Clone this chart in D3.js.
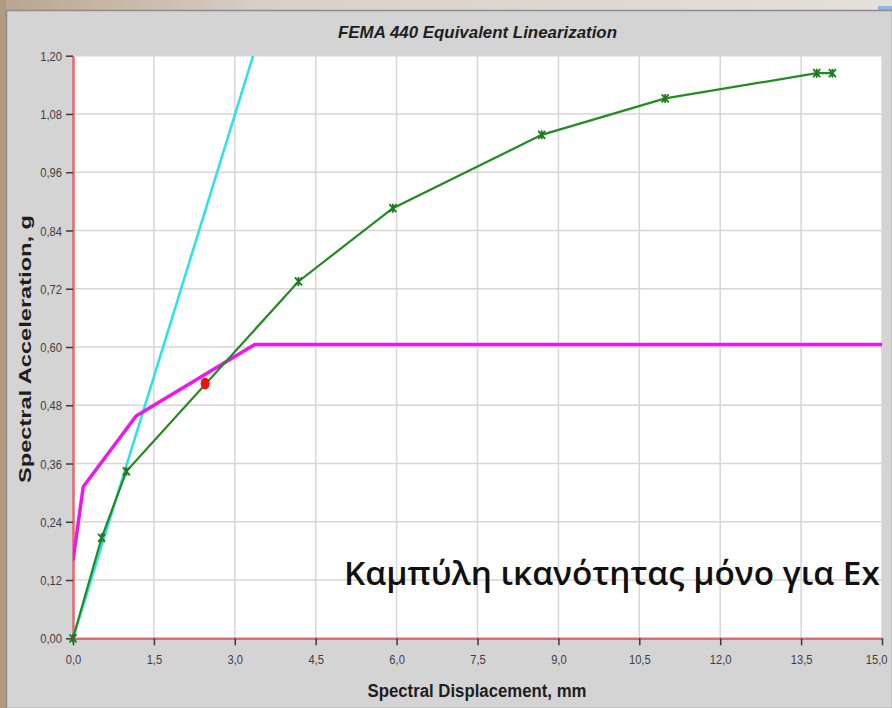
<!DOCTYPE html>
<html>
<head>
<meta charset="utf-8">
<script src="https://cdn.jsdelivr.net/npm/d3@7"></script>
<style>
  html, body { margin: 0; padding: 0; background: #d3d3d3; }
  svg { display: block; }
</style>
</head>
<body>
<svg id="chart" width="892" height="708"></svg>
<script>
// Capacity curve (spectral displacement in mm, spectral acceleration in g)
const capacitySd = [0, 0.53, 0.99, 4.18, 5.93, 8.69, 10.98, 13.79, 14.08];
const capacitySa = [0, 0.207, 0.344, 0.735, 0.886, 1.037, 1.112, 1.164, 1.164];

// Reduced demand spectrum (ADRS)
const demandSd = [0, 0.19, 1.17, 3.37, 15];
const demandSa = [0.16, 0.312, 0.458, 0.605, 0.605];

// Effective period line through the origin
const periodSd = [0, 3.34];
const periodSa = [0, 1.2];

// Performance point
const perfSd = [2.45];
const perfSa = [0.525];

// Axis ticks
const xTicks = [0, 1.5, 3.0, 4.5, 6.0, 7.5, 9.0, 10.5, 12.0, 13.5, 15.0];
const yTicks = [0, 0.12, 0.24, 0.36, 0.48, 0.60, 0.72, 0.84, 0.96, 1.08, 1.20];

const chartTitle = "FEMA 440 Equivalent Linearization";
const xTitle = "Spectral Displacement, mm";
const yTitle = "Spectral Acceleration, g";
const note = "Καμπύλη ικανότητας μόνο για Εx";

const svg = d3.select("#chart");
const W = 892, H = 708;
const plot = { left: 73, right: 882, top: 55.7, bottom: 638.3 };

const x = d3.scaleLinear().domain([0, 15]).range([plot.left, plot.right]);
const y = d3.scaleLinear().domain([0, 1.2]).range([plot.bottom, plot.top]);

// Window background and panel
const defs = svg.append("defs");
const bg = defs.append("linearGradient").attr("id", "topband").attr("x1", 0).attr("x2", 1);
bg.append("stop").attr("offset", "0").attr("stop-color", "#b9a58f");
bg.append("stop").attr("offset", "0.3").attr("stop-color", "#d9d0c8");
bg.append("stop").attr("offset", "1").attr("stop-color", "#e4e0dc");
svg.append("rect").attr("width", W).attr("height", H).attr("fill", "url(#topband)");
svg.append("rect").attr("x", 0).attr("y", 0).attr("width", 6).attr("height", H).attr("fill", "#b09a82");
svg.append("rect").attr("x", 878).attr("y", 6).attr("width", 14).attr("height", 8).attr("fill", "#8fb8e0");
svg.append("rect")
  .attr("x", 6.5).attr("y", 10.5).attr("width", W - 6).attr("height", H - 10)
  .attr("fill", "#d4d4d4").attr("stroke", "#8c8c8c").attr("stroke-width", 1.5);

// Plot area
svg.append("rect")
  .attr("x", plot.left).attr("y", plot.top)
  .attr("width", plot.right - plot.left).attr("height", plot.bottom - plot.top)
  .attr("fill", "#ffffff");

// Grid
const grid = svg.append("g").attr("stroke", "#d6d6d6").attr("stroke-width", 1.5);
grid.selectAll("line.v").data(xTicks.slice(1)).join("line")
  .attr("x1", d => x(d)).attr("x2", d => x(d))
  .attr("y1", plot.top).attr("y2", plot.bottom);
grid.selectAll("line.h").data(yTicks.slice(1)).join("line")
  .attr("x1", plot.left).attr("x2", plot.right)
  .attr("y1", d => y(d)).attr("y2", d => y(d));

const fmt = (digits) => d => d.toFixed(digits).replace(".", ",");
const tickFont = "'Liberation Sans', Arial, sans-serif";

// Axes
const xAxis = svg.append("g")
  .attr("transform", `translate(0,${plot.bottom})`)
  .call(d3.axisBottom(x).tickValues(xTicks).tickFormat(fmt(1)).tickSize(7).tickSizeOuter(0).tickPadding(9));
const yAxis = svg.append("g")
  .attr("transform", `translate(${plot.left},0)`)
  .call(d3.axisLeft(y).tickValues(yTicks).tickFormat(fmt(2)).tickSize(7).tickSizeOuter(0).tickPadding(4));

[xAxis, yAxis].forEach(a => {
  a.select(".domain").attr("stroke", "#e8676a").attr("stroke-width", 2.5);
  a.selectAll(".tick line").attr("stroke", "#3a3a3a").attr("stroke-width", 1.5);
  a.selectAll(".tick text")
    .attr("fill", "#3e3e3e")
    .style("font-family", tickFont)
    .style("font-size", "13px")
    .each(function () {
      // condensed tick lettering
      const len = this.getComputedTextLength();
      d3.select(this).attr("textLength", (len * 0.86).toFixed(1)).attr("lengthAdjust", "spacingAndGlyphs");
    });
});
yAxis.selectAll(".tick text").attr("dy", "0.35em");
// keep the last x label inside the panel
xAxis.selectAll(".tick text").filter(d => d === 15).attr("text-anchor", "end").attr("dx", "5");

// Effective period line
const line = d3.line().x(d => x(d[0])).y(d => y(d[1]));
svg.append("clipPath").attr("id", "plotclip").append("rect")
  .attr("x", plot.left).attr("y", plot.top)
  .attr("width", plot.right - plot.left).attr("height", plot.bottom - plot.top);

const series = svg.append("g").attr("clip-path", "url(#plotclip)");

series.append("path")
  .datum(periodSd.map((d, i) => [d, periodSa[i]]))
  .attr("d", line)
  .attr("fill", "none").attr("stroke", "#27e3ea").attr("stroke-width", 2.5);

// Demand spectrum
series.append("path")
  .datum(demandSd.map((d, i) => [d, demandSa[i]]))
  .attr("d", line)
  .attr("fill", "none").attr("stroke", "#ee16ee").attr("stroke-width", 3.5)
  .attr("stroke-linejoin", "round");

// Capacity curve
const capData = capacitySd.map((d, i) => [d, capacitySa[i]]);
svg.append("path")
  .datum(capData)
  .attr("d", line)
  .attr("fill", "none").attr("stroke", "#228b22").attr("stroke-width", 2.2);
svg.append("g").selectAll("path").data(capData).join("path")
  .attr("transform", d => `translate(${x(d[0])},${y(d[1])})`)
  .attr("d", "M-3.5,-4L3.5,4M-3.5,4L3.5,-4M0,-4.5L0,4.5")
  .attr("stroke", "#1f7a1f").attr("stroke-width", 1.8).attr("fill", "none");

// Performance point
svg.append("g").selectAll("ellipse").data(perfSd.map((d, i) => [d, perfSa[i]])).join("ellipse")
  .attr("cx", d => x(d[0])).attr("cy", d => y(d[1]))
  .attr("rx", 4.5).attr("ry", 6)
  .attr("fill", "#ee1111");

// Titles
svg.append("text")
  .attr("x", 477.5).attr("y", 38)
  .attr("text-anchor", "middle")
  .attr("textLength", 279).attr("lengthAdjust", "spacingAndGlyphs")
  .style("font-family", "'Liberation Sans', Arial, sans-serif")
  .style("font-size", "17px").style("font-weight", "bold").style("font-style", "italic")
  .attr("fill", "#1e1e1e")
  .text(chartTitle);

svg.append("text")
  .attr("x", 477).attr("y", 697)
  .attr("text-anchor", "middle")
  .attr("textLength", 219).attr("lengthAdjust", "spacingAndGlyphs")
  .style("font-family", "'Liberation Sans', Arial, sans-serif")
  .style("font-size", "18px").style("font-weight", "bold")
  .attr("fill", "#1e1e1e")
  .text(xTitle);

svg.append("text")
  .attr("transform", "translate(31,349) rotate(-90)")
  .attr("text-anchor", "middle")
  .attr("textLength", 268).attr("lengthAdjust", "spacingAndGlyphs")
  .style("font-family", "'Liberation Sans', Arial, sans-serif")
  .style("font-size", "17px").style("font-weight", "bold")
  .attr("fill", "#1e1e1e")
  .text(yTitle);

// Annotation
const noteText = svg.append("text")
  .attr("x", 344).attr("y", 585)
  .style("font-family", "'Open Sans', 'Noto Sans', sans-serif")
  .style("font-size", "36px").style("font-weight", "600")
  .attr("fill", "#111")
  .text(note);
const w0 = noteText.node().getComputedTextLength();
noteText.style("font-size", (36 * 536 / w0).toFixed(2) + "px");
</script>
</body>
</html>
